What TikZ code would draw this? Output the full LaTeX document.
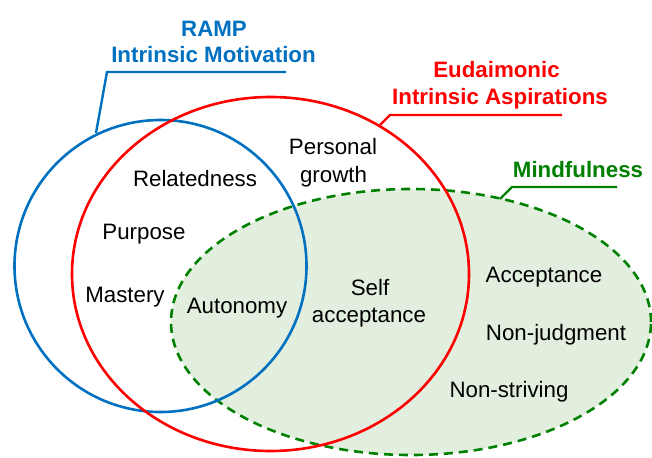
\documentclass[tikz,border=0pt]{standalone}
\usepackage{fontspec}
\setmainfont{Liberation Sans}
\definecolor{rampblue}{RGB}{0,112,192}
\definecolor{eudred}{RGB}{255,0,0}
\definecolor{mindgreen}{RGB}{0,128,0}
\definecolor{mindfill}{RGB}{226,238,222}
\begin{document}
\begin{tikzpicture}[x=1pt,y=-1pt,
  lbl/.style={anchor=base,inner sep=0pt,font=\fontsize{22.3}{26}\selectfont},
  ttl/.style={lbl,font=\fontsize{22.3}{26}\selectfont\bfseries},
  setline/.style={line width=2.6pt},
  leader/.style={line width=2.4pt}]
\useasboundingbox (0,0) rectangle (652,457);
% sets
\fill[mindfill] (411,322) ellipse [x radius=240pt, y radius=133pt];
\draw[mindgreen,setline,dash pattern=on 9pt off 6pt] (411,322) ellipse [x radius=240pt, y radius=133pt];
\draw[rampblue,setline] (160.5,266) circle [radius=146pt];
\draw[eudred,setline] (270.5,274) ellipse [x radius=198.5pt, y radius=177pt];
% titles
\node[ttl,text=rampblue] (ramp1) at (214,37) {RAMP};
\node[ttl,text=rampblue] (ramp2) at (213.5,63) {Intrinsic Motivation};
\node[ttl,text=eudred] (eud1) at (496.5,78) {Eudaimonic};
\node[ttl,text=eudred] (eud2) at (500,105) {Intrinsic Aspirations};
\node[ttl,text=mindgreen] (mind) at (578,177) {Mindfulness};
% leaders
\coordinate (rampEnd) at (286,72);
\coordinate (rampKnee) at (107,72);
\coordinate (rampTip) at (96,133);
\draw[rampblue,leader] (rampEnd) -- (rampKnee) -- (rampTip);
\coordinate (eudEnd) at (562,115);
\coordinate (eudKnee) at (390,115);
\coordinate (eudTip) at (380,125);
\draw[eudred,leader] (eudEnd) -- (eudKnee) -- (eudTip);
\coordinate (mindEnd) at (617,187);
\coordinate (mindKnee) at (512,187);
\coordinate (mindTip) at (500,199);
\draw[mindgreen,leader] (mindEnd) -- (mindKnee) -- (mindTip);
% items
\node[lbl] (relat) at (195,186) {Relatedness};
\node[lbl] (purp) at (144,239) {Purpose};
\node[lbl] (mast) at (125,302) {Mastery};
\node[lbl] (auto) at (237,313) {Autonomy};
\node[lbl] (pers1) at (333,154) {Personal};
\node[lbl] (pers2) at (333.5,182) {growth};
\node[lbl] (self1) at (370,295) {Self};
\node[lbl] (self2) at (369,322) {acceptance};
\node[lbl] (accp) at (544,282) {Acceptance};
\node[lbl] (nonj) at (556,340) {Non-judgment};
\node[lbl] (nons) at (509,397) {Non-striving};
\end{tikzpicture}
\end{document}
